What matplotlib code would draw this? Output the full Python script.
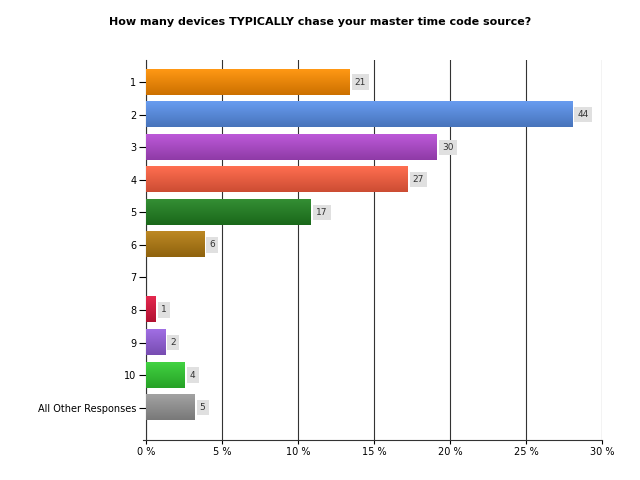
import matplotlib.pyplot as plt
import matplotlib.colors as mcolors
import numpy as np

categories = ["1", "2", "3", "4", "5", "6", "7", "8", "9", "10", "All Other Responses"]
counts = [21, 44, 30, 27, 17, 6, 0, 1, 2, 4, 5]
colors = ["#F08400", "#5488DC", "#A845C4", "#F05A3C", "#1F7A1F", "#A87410",
          "#888888", "#D0143A", "#8C5AD0", "#2DBE2D", "#8E8E8E"]
ticks = [0, 5, 10, 15, 20, 25, 30]

total = sum(counts)
pct = [c / total * 100 for c in counts]

fig = plt.figure(figsize=(6.4, 4.8), dpi=100)
ax = fig.add_axes([0.228, 0.083, 0.713, 0.792])

y = np.arange(len(categories))
bars = ax.barh(y, pct, height=0.77, color=colors, zorder=3)

# simple vertical gradient on each bar (lighter on top)
for b, col in zip(bars, colors):
    if b.get_width() <= 0:
        continue
    rgb = np.array(mcolors.to_rgb(col))
    light = np.clip(rgb + 0.08, 0, 1)
    dark = rgb * 0.85
    grad = np.linspace(0, 1, 50)[:, None, None]
    img = dark * (1 - grad) + light * grad
    x0, y0 = b.get_x(), b.get_y()
    ax.imshow(img, extent=[x0, x0 + b.get_width(), y0, y0 + b.get_height()],
              aspect="auto", zorder=4, origin="upper")
    b.set_visible(False)

for yi, p, c in zip(y, pct, counts):
    if c == 0:
        continue
    ax.text(p + 0.35, yi, str(c), va="center", ha="left", fontsize=6.5,
            color="#333333", zorder=5,
            bbox=dict(boxstyle="square,pad=0.35", fc="#E0E0E0", ec="none"))

ax.set_xlim(0, 30)
ax.set_ylim(11.0, -0.68)
ax.set_xticks(ticks)
ax.set_xticklabels([f"{t} %" for t in ticks], fontsize=7)
ax.set_yticks(y)
ax.set_yticklabels(categories, fontsize=7)
ax.grid(axis="x", color="#333333", linewidth=0.8, zorder=0)
ax.tick_params(axis="y", length=5, width=0.8, pad=2)
ax.tick_params(axis="x", length=3, width=0.8, pad=2)
for s in ["top", "right"]:
    ax.spines[s].set_visible(False)
ax.spines["left"].set_color("#333333")
ax.spines["bottom"].set_color("#333333")
ax.spines["bottom"].set_bounds(-0.2, 30)
ax.spines["bottom"].set_clip_on(False)

fig.text(0.5, 0.955, "How many devices TYPICALLY chase your master time code source?",
         ha="center", va="center", fontsize=8, fontweight="bold")

fig.savefig("out.png", dpi=100)
